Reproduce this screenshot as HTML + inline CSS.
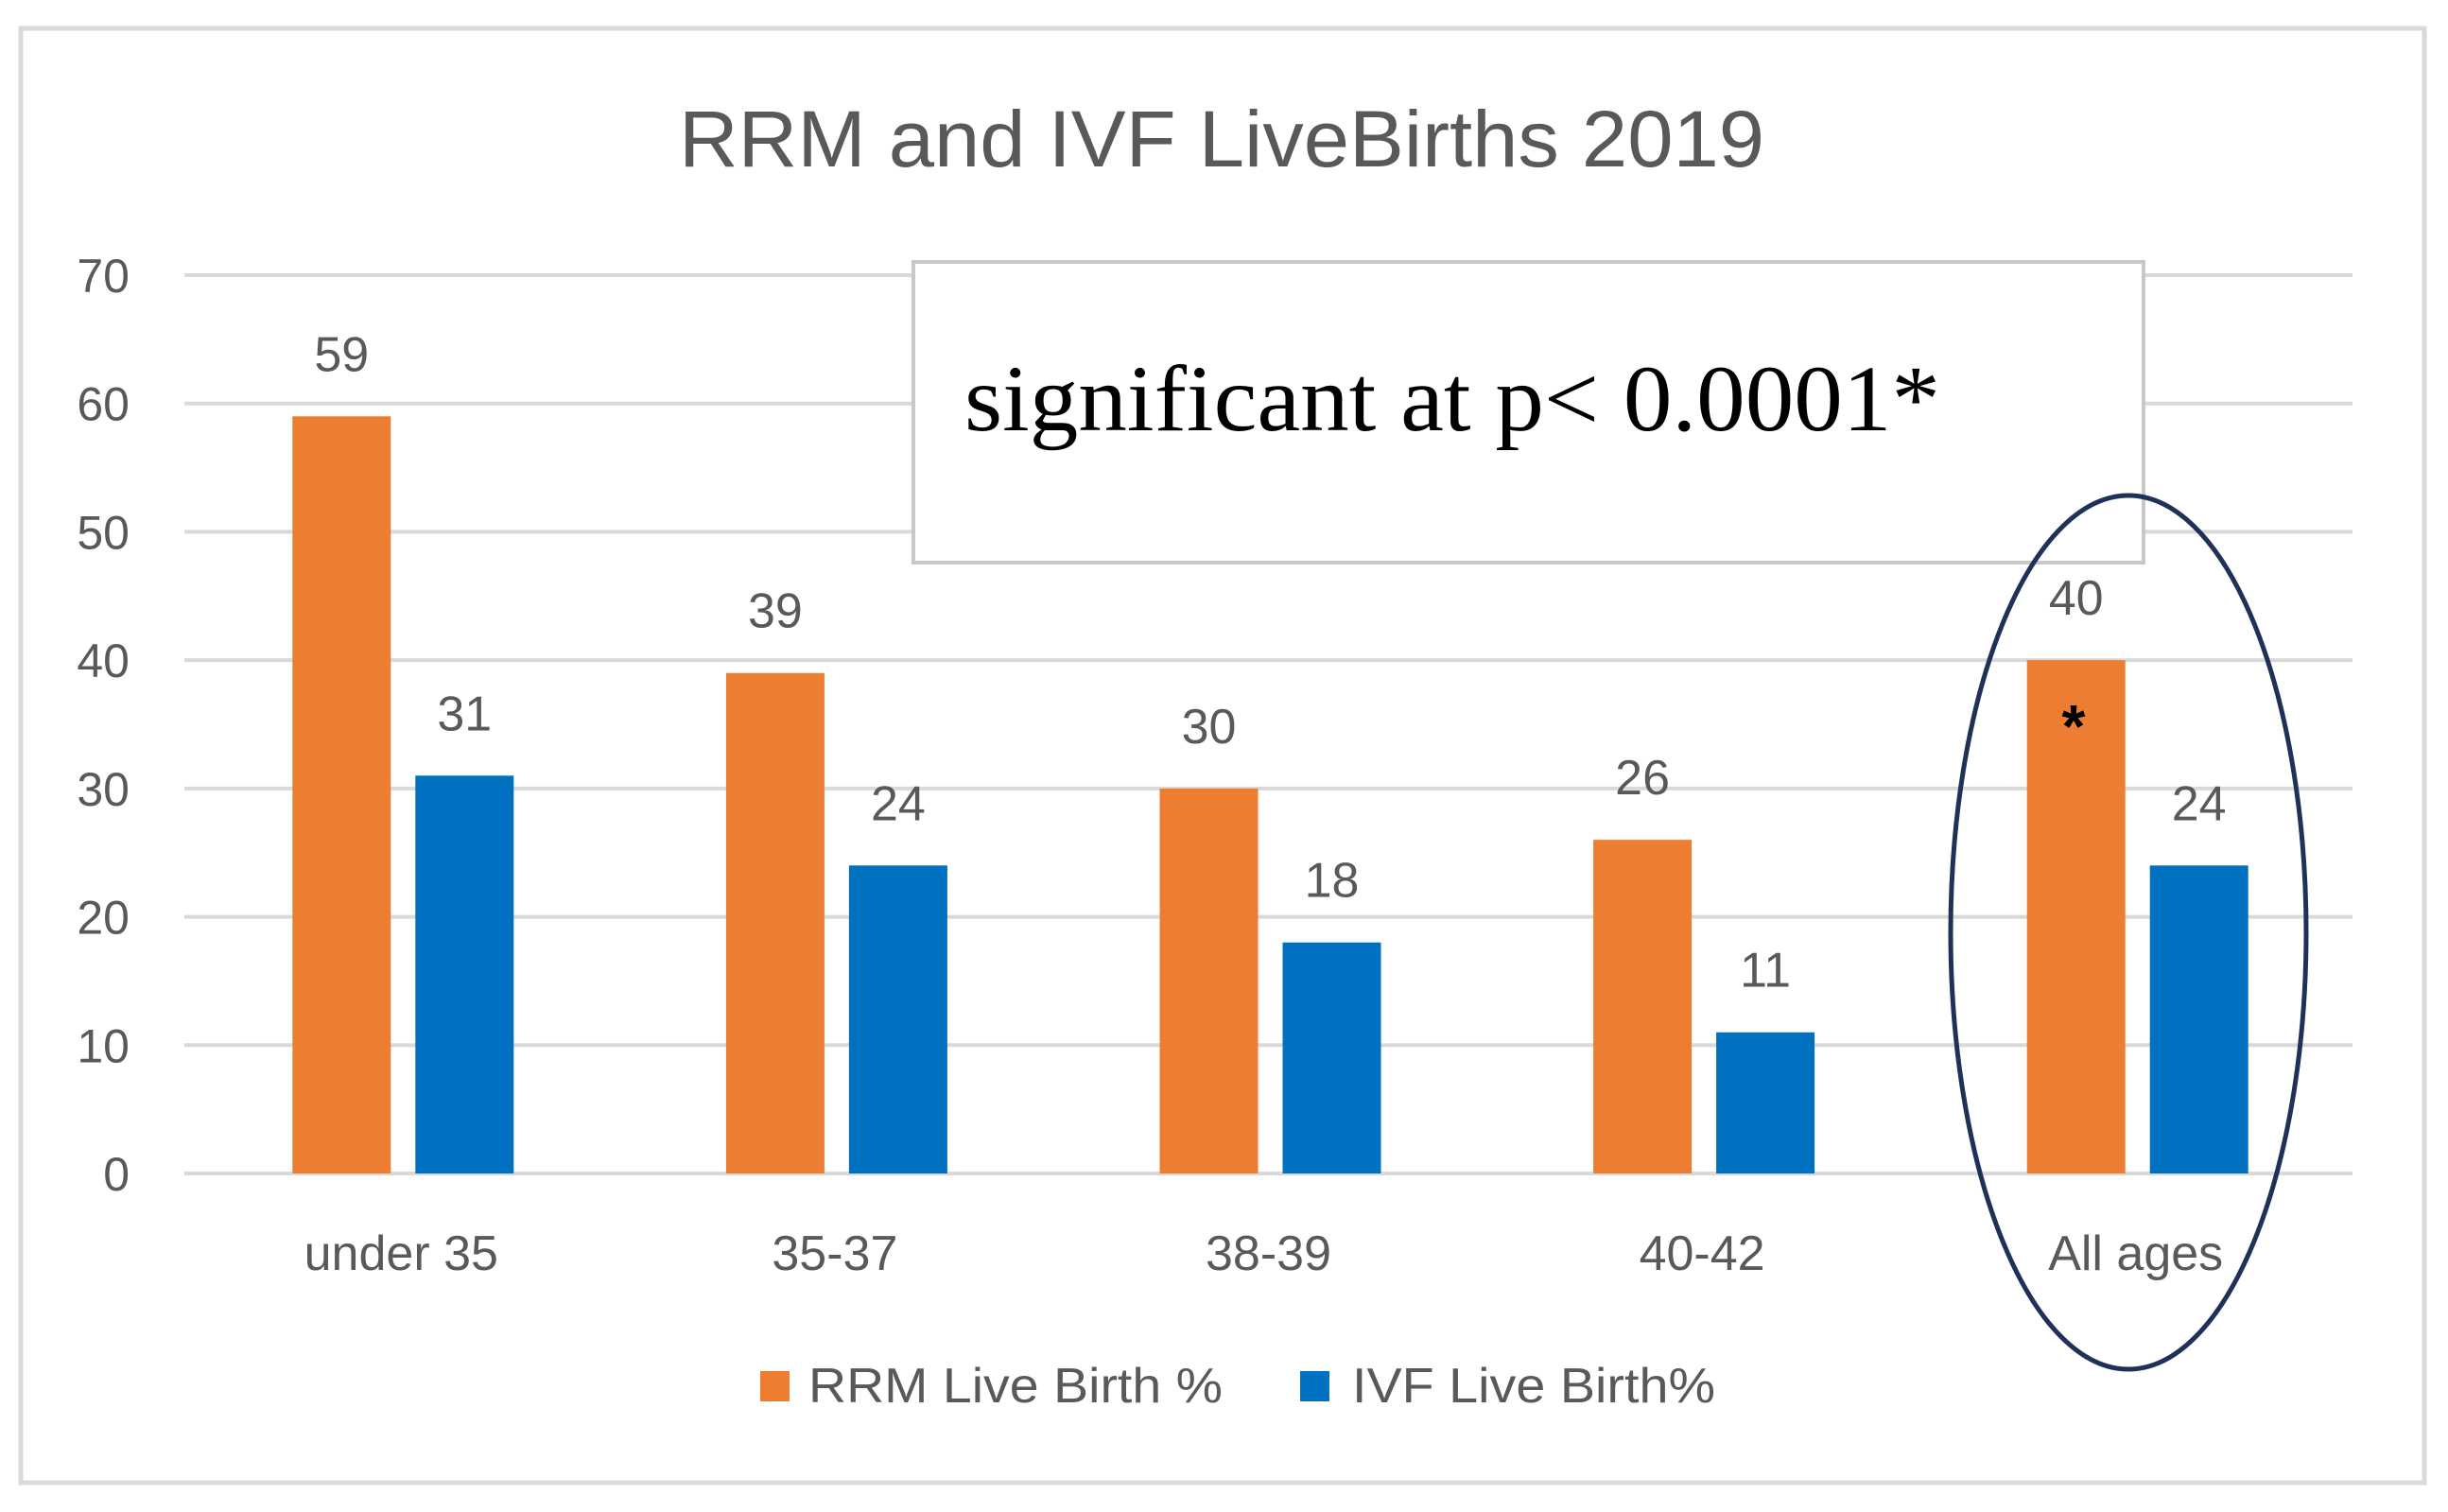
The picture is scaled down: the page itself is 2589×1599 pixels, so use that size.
<!DOCTYPE html>
<html><head><meta charset="utf-8"><style>
html,body{margin:0;padding:0;background:#fff;}
svg{display:block;}
</style></head><body>
<svg id="chart" width="2589" height="1599" viewBox="0 0 2589 1599" xmlns="http://www.w3.org/2000/svg">
<rect x="22" y="30" width="2542" height="1538" fill="#fff" stroke="#d9d9d9" stroke-width="5"/>
<text x="1292" y="176" text-anchor="middle" font-family="Liberation Sans, sans-serif" font-size="84" fill="#595959" textLength="1148" lengthAdjust="spacingAndGlyphs">RRM and IVF LiveBirths 2019</text>
<g id="grid"></g>
<g id="bars"></g>
<rect x="966" y="277" width="1301" height="318" fill="#fff" stroke="#c8c8c8" stroke-width="4"/>
<text x="1020" y="455" font-family="Liberation Serif, serif" font-size="100" fill="#000" textLength="1032" lengthAdjust="spacingAndGlyphs">significant at p&lt; 0.0001*</text>
<ellipse cx="2251" cy="986" rx="188" ry="462" fill="none" stroke="#1f3159" stroke-width="5"/>
<text x="2193" y="790" text-anchor="middle" font-family="Liberation Sans, sans-serif" font-weight="bold" font-size="64" fill="#000">*</text>
<g>
<rect x="804" y="1450" width="31" height="32" fill="#ed7d31"/>
<text x="855" y="1483" font-family="Liberation Sans, sans-serif" font-size="52" fill="#595959" textLength="438" lengthAdjust="spacingAndGlyphs">RRM Live Birth %</text>
<rect x="1375" y="1450" width="31" height="32" fill="#0070c0"/>
<text x="1430" y="1483" font-family="Liberation Sans, sans-serif" font-size="52" fill="#595959" textLength="384" lengthAdjust="spacingAndGlyphs">IVF Live Birth%</text>
</g>
</svg>
<script>
const categories = ["under 35", "35-37", "38-39", "40-42", "All ages"];
const rrmValues = [59, 39, 30, 26, 40];
const ivfValues = [31, 24, 18, 11, 24];
const yTicks = [0, 10, 20, 30, 40, 50, 60, 70];

const NS = "http://www.w3.org/2000/svg";
const plotLeft = 195, plotRight = 2488, yTop = 291, yBottom = 1241, yMax = 70;
const band = (plotRight - plotLeft) / categories.length;
function y(v){ return yBottom - (v / yMax) * (yBottom - yTop); }
function xc(i){ return plotLeft + band * (i + 0.5); }
function mk(tag, attrs, parent, txt){
  const e = document.createElementNS(NS, tag);
  for (const k in attrs) e.setAttribute(k, attrs[k]);
  if (txt !== undefined) e.textContent = txt;
  parent.appendChild(e);
  return e;
}
const grid = document.getElementById('grid');
const bars = document.getElementById('bars');
yTicks.forEach(t => {
  const l = mk('line', {x1: plotLeft, x2: plotRight, y1: y(t), y2: y(t), stroke: '#d9d9d9', 'stroke-width': 4}, grid);
  
  
  const tx = mk('text', {x: 137, y: y(t) + 18, 'text-anchor': 'end', 'font-family': 'Liberation Sans, sans-serif', 'font-size': 50, fill: '#595959'}, grid, String(t));
  
  
});
categories.forEach((c, i) => {
  const cx = xc(i);
  const ox = cx - 115, bx = cx + 15, w = 104;
  const r1 = mk('rect', {x: ox, y: y(rrmValues[i]), width: w, height: yBottom - y(rrmValues[i]), fill: '#ed7d31'}, bars);
  
  
  const r2 = mk('rect', {x: bx, y: y(ivfValues[i]), width: w, height: yBottom - y(ivfValues[i]), fill: '#0070c0'}, bars);
  
  
  const t1 = mk('text', {x: ox + w/2, y: y(rrmValues[i]) - 48, 'text-anchor': 'middle', 'font-family': 'Liberation Sans, sans-serif', 'font-size': 52, fill: '#595959'}, bars, String(rrmValues[i]));
  
  
  const t2 = mk('text', {x: bx + w/2, y: y(ivfValues[i]) - 48, 'text-anchor': 'middle', 'font-family': 'Liberation Sans, sans-serif', 'font-size': 52, fill: '#595959'}, bars, String(ivfValues[i]));
  
  
  const cl = mk('text', {x: cx, y: 1343, 'text-anchor': 'middle', 'font-family': 'Liberation Sans, sans-serif', 'font-size': 52, fill: '#595959'}, bars, c);
  
  
});
</script>
</body></html>
